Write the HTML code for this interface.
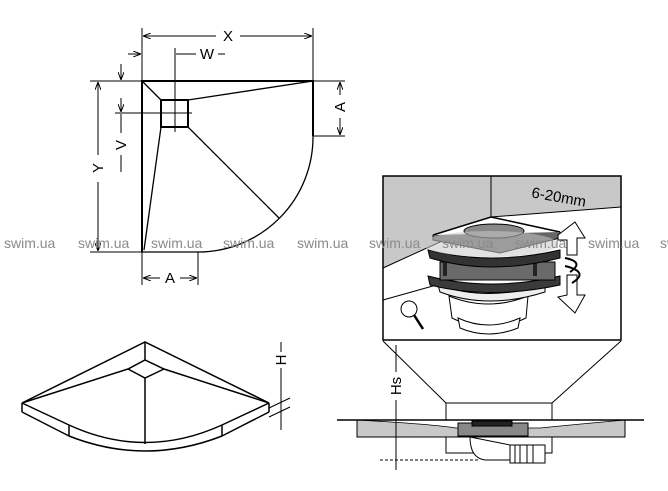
<!DOCTYPE html>
<html><head><meta charset="utf-8"><style>
html,body{margin:0;padding:0;background:#fff;width:668px;height:491px;overflow:hidden}
svg{display:block}
text{font-family:"Liberation Sans",sans-serif}
</style></head><body>
<svg width="668" height="491" viewBox="0 0 668 491" xmlns="http://www.w3.org/2000/svg">
<defs>
<marker id="ar" markerWidth="8" markerHeight="6" refX="8" refY="3" orient="auto" markerUnits="userSpaceOnUse"><path d="M0,0 L8,3 L0,6" fill="none" stroke="#000" stroke-width="1"/></marker>
</defs>
<g stroke="#000" fill="none">
<!-- top plan -->
<path d="M142,252 V81 H313 V136" stroke-width="2"/>
<path d="M313,136 A115,115 0 0 1 198,252 H142" stroke-width="1.3"/>
<rect x="161" y="100" width="27" height="27" stroke-width="2"/>
<path d="M142,81 L161,100 M188,100 L313,81 M161,127 L144,250 M188,127 L279,218" stroke-width="1.3"/>
<!-- dims -->
<g stroke-width="1">
<path d="M142,28 V81 M313,28 V81"/>
<path d="M216,36 H143" marker-end="url(#ar)"/><path d="M240,36 H312" marker-end="url(#ar)"/>
<path d="M128,54 H141" marker-end="url(#ar)"/>
<path d="M176,54 H196 M218,54 H225"/>
<path d="M175,48 V132"/>
<path d="M90,81 H142 M90,252 H142"/>
<path d="M98,155 V82" marker-end="url(#ar)"/><path d="M98,182 V251" marker-end="url(#ar)"/>
<path d="M115,113 H192"/>
<path d="M121,64 V80" marker-end="url(#ar)"/>
<path d="M121,98 V112" marker-end="url(#ar)"/>
<path d="M121,114 V133 M121,155 V172"/>
<path d="M313,136 H345 M313,81 H345"/>
<path d="M340,95 V82" marker-end="url(#ar)"/><path d="M340,118 V135" marker-end="url(#ar)"/>
<path d="M198,252 V285 M142,252 V285"/>
<path d="M160,278 H143" marker-end="url(#ar)"/><path d="M180,278 H197" marker-end="url(#ar)"/>
</g>
<!-- iso -->
<g stroke-width="1.5">
<path d="M22,403 L145,342 L269,403"/>
<path d="M145,342 V360 M22,403 L128,369 L145,360 L164,369 L269,403 M128,369 L145,378 L164,369 M145,378 V444"/>
<path d="M22,403 V412 M269,403 V412"/>
<path d="M22,403 L69,425 Q145,460 222,425 L269,403"/>
<path d="M22,412 L69,436 Q145,466 222,436 L269,412"/>
<path d="M69,425 V436 M222,425 V436"/>
</g>
<g stroke-width="1"><path d="M281,342 V352 M281,368 V430 M269,408 L290,398 M269,417 L290,407"/></g>
<!-- photo -->
<polygon points="383,176 621,176 621,207 491,217 460,232 383,268" fill="#c8c8c8" stroke="none"/>
<path d="M491,176 V217 L621,207 M491,217 L440,242 L383,268 M383,300 L440,284" stroke-width="1"/>
<rect x="383" y="176" width="238" height="164" stroke-width="1.5"/>
<!-- drain -->
<path d="M449,296 Q488,312 528,296 L526,318 Q488,336 452,318 Z" fill="#fff" stroke-width="1"/>
<path d="M458,318 Q488,332 520,318 L518,328 Q488,340 460,328 Z" fill="#fff" stroke-width="1"/>
<path d="M438,285 Q488,302 545,285 L545,292 Q488,310 440,292 Z" fill="#eee" stroke-width="1"/>
<path d="M428,276 Q490,292 560,276 L560,285 Q490,300 430,285 Z" fill="#3a3a3a" stroke-width="1"/>
<path d="M440,262 L555,262 L555,280 L440,280 Z" fill="#6a6a6a" stroke-width="1"/>
<path d="M445,262 V276 M535,262 V276" stroke="#222" stroke-width="4"/>
<path d="M428,250 Q490,266 560,250 L560,258 Q490,276 430,258 Z" fill="#333" stroke-width="1"/>
<path d="M433,235 L491,217 L560,232 L500,248 Z" fill="#fff" stroke-width="1.5"/>
<path d="M433,235 L433,240 L500,253 L560,238 L560,232" fill="#666" stroke-width="1"/>
<ellipse cx="494" cy="231" rx="30" ry="7" fill="#888" stroke-width="1"/>
<path d="M558,235 L575,222 L585,238 L577,238 L577,255 L567,255 L567,240 L558,240 Z" fill="#fff" stroke-width="1"/>
<path d="M558,297 L575,313 L585,295 L577,295 L577,275 L567,275 L567,295 Z" fill="#fff" stroke-width="1"/>
<path d="M565,258 Q585,262 570,272 M565,266 Q590,272 572,283" stroke-width="2"/>
<circle cx="409" cy="309" r="8" stroke-width="1"/><path d="M414,315 L423,329" stroke-width="2.5"/>
<ellipse cx="490" cy="244" rx="68" ry="13" fill="rgba(200,200,200,0.55)" stroke="none"/>
<!-- funnel -->
<path d="M383,341 L446,403 M621,341 L552,403" stroke-width="1"/>
<rect x="446" y="403" width="106" height="50" stroke-width="1"/>
<path d="M357,420 H625 V437 H357 Z" fill="#c8c8c8" stroke-width="1"/>
<path d="M357,420 Q430,424 456,428 L540,428 Q580,424 625,420" fill="#fff" stroke-width="0.8"/>
<path d="M337,420 H644" stroke-width="1.5"/>
<rect x="458" y="423" width="70" height="13" fill="#888" stroke-width="1"/>
<rect x="472" y="421" width="40" height="5" fill="#222" stroke-width="1"/>
<path d="M470,437 Q470,458 485,460 L510,460 L510,445 Z" fill="#fff" stroke-width="1"/>
<rect x="510" y="445" width="35" height="18" fill="#fff" stroke-width="1"/>
<path d="M515,445 V463 M520,445 V463 M527,445 V463 M533,445 V463" stroke-width="1"/>
<path d="M380,460 H480" stroke-width="1" stroke-dasharray="3,2"/>
<path d="M396,345 V372 M396,400 V470" stroke-width="1"/>
</g>
<g font-size="15" fill="#000" text-anchor="middle">
<text x="228" y="41">X</text>
<text x="207" y="59">W</text>
<text transform="translate(103,168) rotate(-90)">Y</text>
<text transform="translate(126,145) rotate(-90)">V</text>
<text transform="translate(345,107) rotate(-90)">A</text>
<text x="170" y="283">A</text>
<text transform="translate(286,360) rotate(-90)">H</text>
<text transform="translate(401,386) rotate(-90)">Hs</text>
<text x="558" y="202" transform="rotate(10,558,202)">6-20mm</text>
</g>
<g font-size="14" fill="#8a8a8a">
<text x="4" y="248">swim.ua</text><text x="78" y="248">swim.ua</text><text x="151" y="248">swim.ua</text>
<text x="223" y="248">swim.ua</text><text x="297" y="248">swim.ua</text><text x="369" y="248">swim.ua</text>
<text x="442" y="248">swim.ua</text><text x="515" y="248">swim.ua</text><text x="588" y="248">swim.ua</text>
<text x="660" y="248">swim.ua</text>
</g>
</svg>
</body></html>
